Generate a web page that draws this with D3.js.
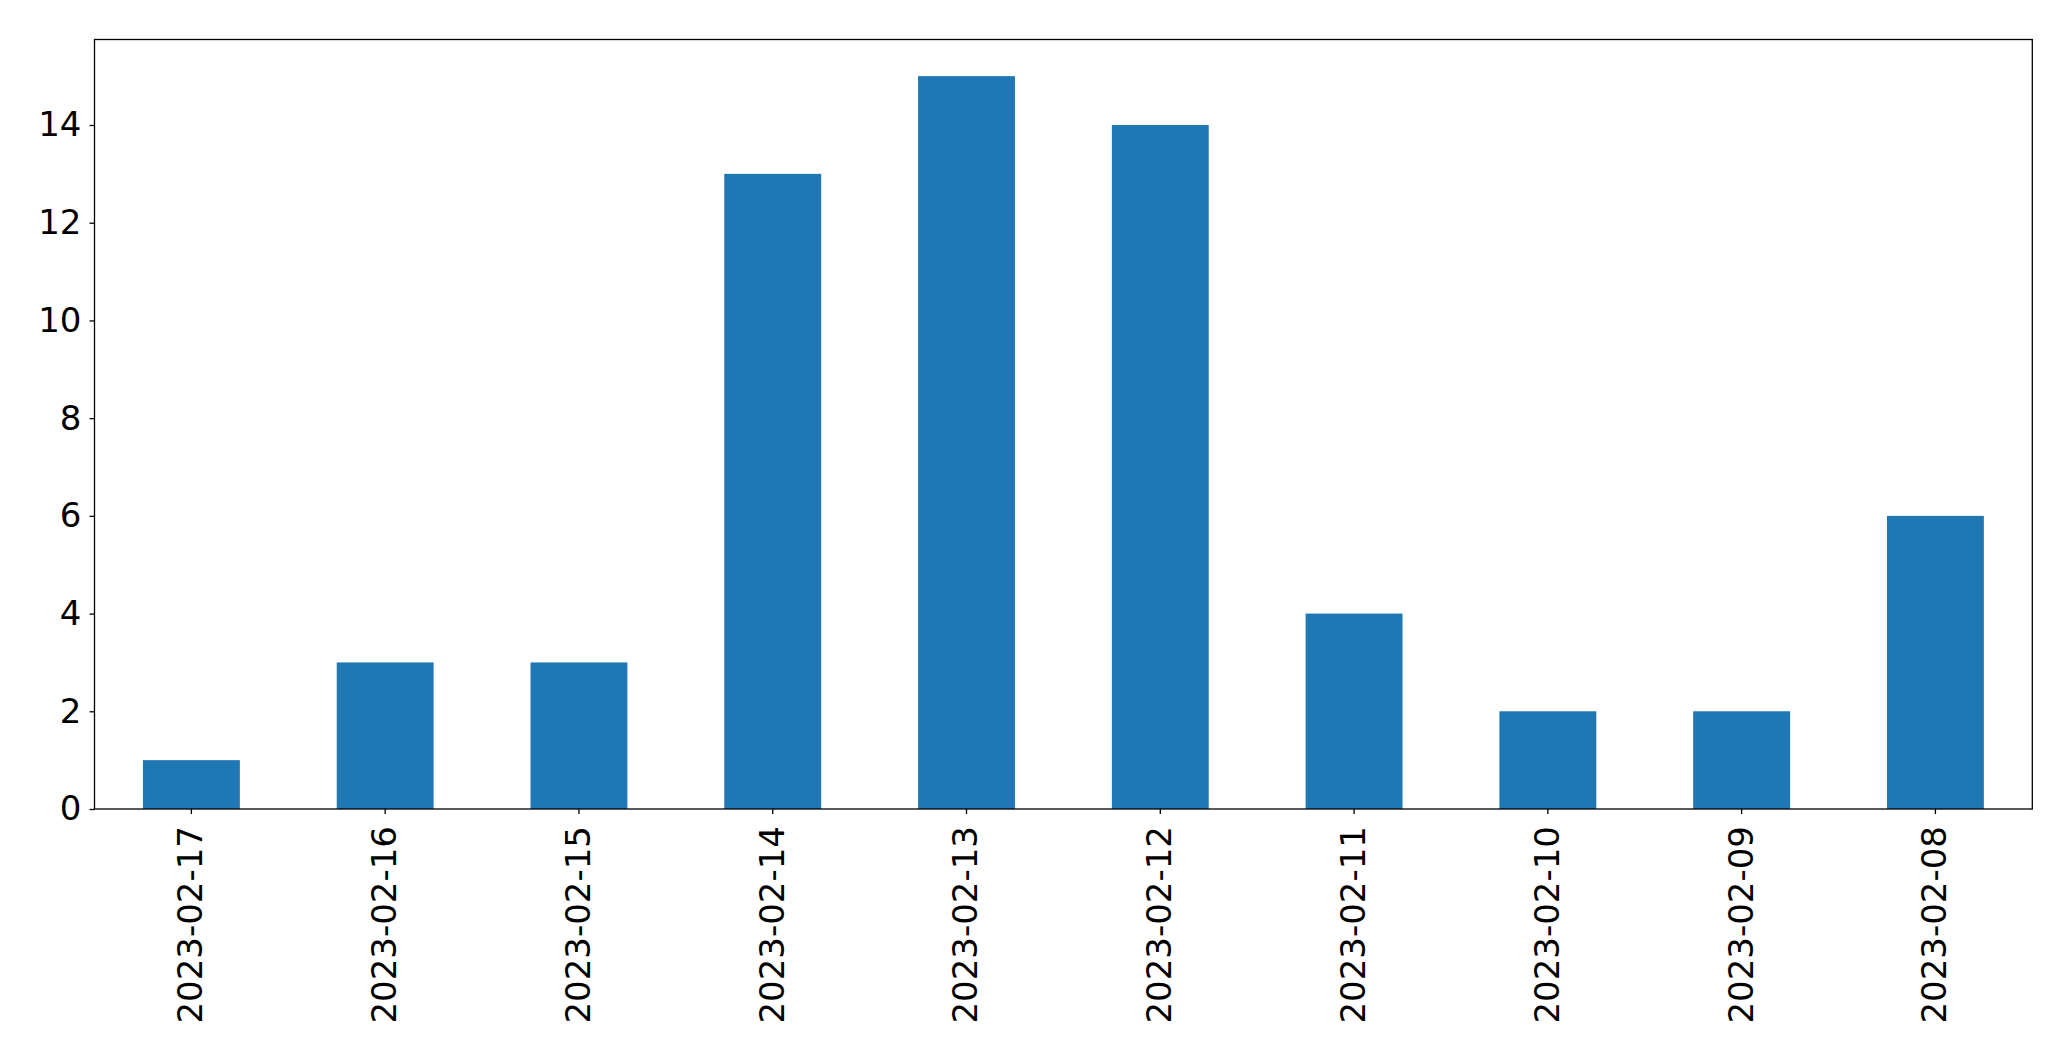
<!DOCTYPE html>
<html><head><meta charset="utf-8">
<script src="https://cdn.jsdelivr.net/npm/d3@7"></script>
<style>body{margin:0;background:#fff}svg{display:block}</style>
</head><body>
<script>
const categories = ["2023-02-17","2023-02-16","2023-02-15","2023-02-14","2023-02-13","2023-02-12","2023-02-11","2023-02-10","2023-02-09","2023-02-08"];
const values = [1,3,3,13,15,14,4,2,2,6];
const yTicks = [0,2,4,6,8,10,12,14];

const W = 2071, H = 1061;
const m = {left: 94.5, top: 39.5, right: 2071-2032.3, bottom: 1061-809};
const svg = d3.select("body").append("svg").attr("width", W).attr("height", H);
const x = d3.scaleBand().domain(categories).range([m.left, W - m.right]).paddingInner(0.5).paddingOuter(0.25);
const y = d3.scaleLinear().domain([0, 15*1.05]).range([H - m.bottom, m.top]);

svg.append("g").selectAll("rect").data(values).join("rect")
  .attr("x", (d,i) => x(categories[i]))
  .attr("y", d => y(d))
  .attr("width", x.bandwidth())
  .attr("height", d => y(0) - y(d))
  .attr("fill", "#1f77b4");

const font = "DejaVu Sans, sans-serif";
const fs = 34;
const yAxis = svg.append("g").attr("transform", `translate(${m.left},0)`)
  .call(d3.axisLeft(y).tickValues(yTicks).tickSize(5).tickPadding(8).tickFormat(d3.format("d")));
yAxis.select(".domain").remove();
yAxis.selectAll("text").attr("font-family", font).attr("font-size", fs).attr("fill", "#000");
yAxis.selectAll("line").attr("stroke", "#000").attr("stroke-width", 1.3);

const xAxis = svg.append("g").attr("transform", `translate(0,${H - m.bottom})`)
  .call(d3.axisBottom(x).tickSize(5).tickPadding(0));
xAxis.select(".domain").remove();
xAxis.selectAll("line").attr("stroke", "#000").attr("stroke-width", 1.3);
xAxis.selectAll("text").attr("font-family", font).attr("font-size", fs).attr("fill", "#000")
  .attr("transform", "rotate(-90)")
  .attr("text-anchor", "end")
  .attr("x", -17).attr("y", 0).attr("dy", "0.32em");

svg.append("rect").attr("x", m.left).attr("y", m.top)
  .attr("width", W - m.left - m.right).attr("height", H - m.top - m.bottom)
  .attr("fill", "none").attr("stroke", "#000").attr("stroke-width", 1.3);
</script>
</body></html>
